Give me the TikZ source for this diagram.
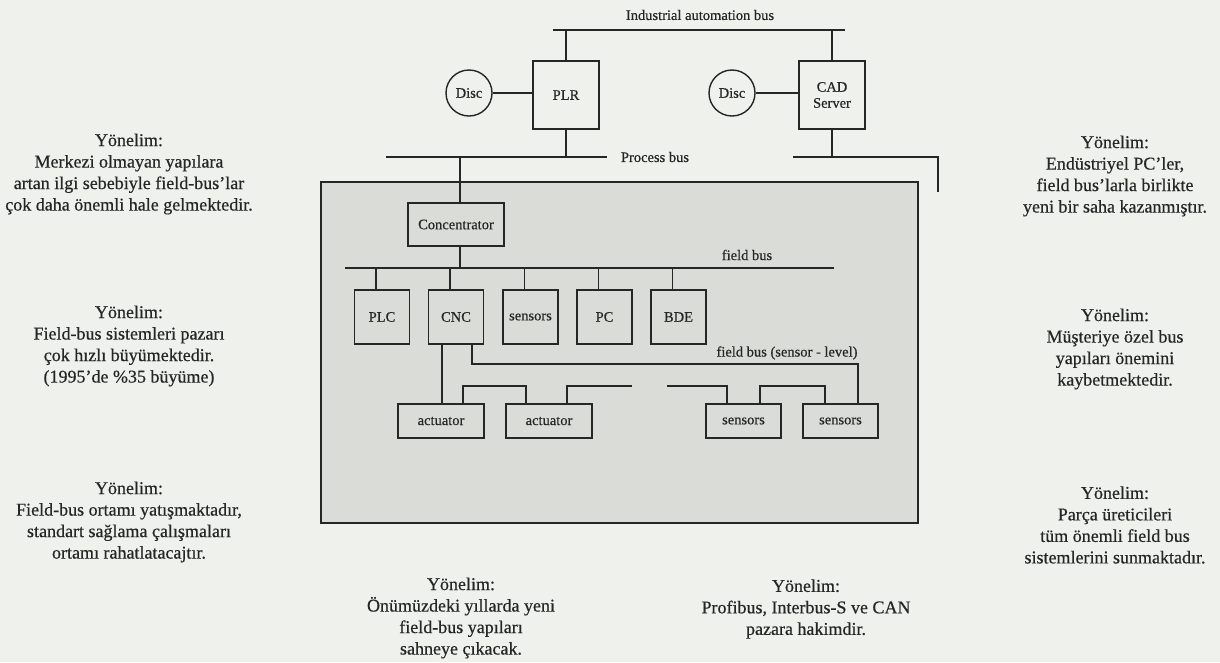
\documentclass[tikz,border=0pt]{standalone}
\usepackage{fontspec}
\setmainfont{Liberation Serif}[FakeBold=0.5]
\definecolor{bg}{HTML}{EEF1EC}
\definecolor{area}{HTML}{D9DCD7}
\definecolor{ink}{HTML}{262626}
\begin{document}
\begin{tikzpicture}[x=1pt,y=-1pt,
  wire/.style={draw=ink,line width=1.3pt},
  box/.style={draw=ink,line width=1.4pt,fill=area,inner sep=0pt,text=ink,
    font=\fontsize{14.5}{16}\selectfont,align=center},
  topbox/.style={box,fill=bg,minimum width=66pt,minimum height=68pt},
  rowbox/.style={box,minimum width=55pt,minimum height=54pt},
  lowbox/.style={box,minimum height=34pt},
  disc/.style={circle,draw=ink,line width=1.4pt,minimum size=46pt,inner sep=0pt,
    text=ink,font=\fontsize{14.5}{16}\selectfont},
  lab/.style={inner sep=0pt,text=ink,font=\fontsize{14.5}{16}\selectfont},
  side/.style={inner sep=0pt,text=ink,align=center,font=\fontsize{18}{21.5}\selectfont}]
\useasboundingbox[fill=bg] (0,0) rectangle (1220,662);

% upper level
\node[lab] (ialab) at (700,15) {Industrial automation bus};
\coordinate (ib1) at (553,30);
\coordinate (ib2) at (845,30);
\draw[wire] (ib1) -- (ib2);
\node[topbox] (plr) at (566,95) {PLR};
\node[topbox] (cad) at (832,95) {CAD\\Server};
\node[disc] (d1) at (469,93) {Disc};
\node[disc] (d2) at (732,93) {Disc};
\draw[wire] (d1.east) -- (d1.east -| plr.west);
\draw[wire] (d2.east) -- (d2.east -| cad.west);
\draw[wire] (plr.north) -- (plr.north |- ib1);
\draw[wire] (cad.north) -- (cad.north |- ib1);

% process bus
\coordinate (pb1) at (386,157);
\coordinate (pb2) at (607,157);
\coordinate (pb3) at (793,157);
\coordinate (pb4) at (938,157);
\coordinate (pb5) at (938,192);
\draw[wire] (pb1) -- (pb2);
\draw[wire] (pb3) -- (pb4) -- (pb5);
\node[lab] (pblab) at (655,157) {Process bus};
\draw[wire] (plr.south) -- (plr.south |- pb1);
\draw[wire] (cad.south) -- (cad.south |- pb3);

% field area
\node[draw=ink,line width=2.4pt,fill=area,minimum width=597pt,minimum height=341pt,inner sep=0pt] (fa) at (619.5,352.5) {};

\node[box,minimum width=96pt,minimum height=43pt] (conc) at (456,224.5) {Concentrator};
\coordinate (ctap) at (460,157);
\draw[wire] (ctap) -- (ctap |- conc.north);

\coordinate (fb1) at (345,268);
\coordinate (fb2) at (834,268);
\draw[wire] (fb1) -- (fb2);
\draw[wire] (ctap |- conc.south) -- (ctap |- fb1);
\node[lab] (fblab) at (747,255) {field bus};

\node[rowbox] (plc) at (382,317) {PLC};
\node[rowbox] (cnc) at (456,317) {CNC};
\node[rowbox] (sen) at (530.5,317) {sensors};
\node[rowbox] (pc) at (604.5,317) {PC};
\node[rowbox] (bde) at (678.5,317) {BDE};
\foreach \n in {plc,cnc,sen,pc,bde}
  \draw[wire] ([xshift=-6pt]\n.north) -- ([xshift=-6pt]\n.north |- fb1);

\node[lowbox,minimum width=86pt] (act1) at (441,421) {actuator};
\node[lowbox,minimum width=86pt] (act2) at (549,421) {actuator};
\node[lowbox,minimum width=75pt] (sb1) at (743.5,421) {sensors};
\node[lowbox,minimum width=75pt] (sb2) at (840.5,421) {sensors};

\draw[wire] ([xshift=-14pt]cnc.south) -- ([xshift=-14pt]cnc.south |- act1.north);
\coordinate (slr) at (858,364);
\draw[wire] ([xshift=16pt]cnc.south) |- (slr) -- (slr |- sb2.north);
\node[lab] (sllab) at (787,353) {field bus (sensor - level)};

\coordinate (a1) at (463,386);
\coordinate (a2) at (526,386);
\coordinate (a3) at (567,386);
\coordinate (a4) at (632,386);
\coordinate (s1) at (667,386);
\coordinate (s2) at (727,386);
\coordinate (s3) at (760,386);
\coordinate (s4) at (825,386);
\draw[wire] (act1.north -| a1) -- (a1) -- (a2) -- (act2.north -| a2);
\draw[wire] (act2.north -| a3) -- (a3) -- (a4);
\draw[wire] (s1) -- (s2) -- (sb1.north -| s2);
\draw[wire] (sb1.north -| s3) -- (s3) -- (s4) -- (sb2.north -| s4);

% side texts
\node[side] (l1) at (129,174) {Yönelim:\\Merkezi olmayan yapılara\\artan ilgi sebebiyle field-bus'lar\\çok daha önemli hale gelmektedir.};
\node[side] (l2) at (129,346) {Yönelim:\\Field-bus sistemleri pazarı\\çok hızlı büyümektedir.\\(1995'de \%35 büyüme)};
\node[side] (l3) at (129,522) {Yönelim:\\Field-bus ortamı yatışmaktadır,\\standart sağlama çalışmaları\\ortamı rahatlatacajtır.};
\node[side] (r1) at (1115,176) {Yönelim:\\Endüstriyel PC'ler,\\field bus'larla birlikte\\yeni bir saha kazanmıştır.};
\node[side] (r2) at (1115,349) {Yönelim:\\Müşteriye özel bus\\yapıları önemini\\kaybetmektedir.};
\node[side] (r3) at (1115,525) {Yönelim:\\Parça üreticileri\\tüm önemli field bus\\sistemlerini sunmaktadır.};
\node[side] (b1) at (461,618) {Yönelim:\\Önümüzdeki yıllarda yeni\\field-bus yapıları\\sahneye çıkacak.};
\node[side] (b2) at (806,609) {Yönelim:\\Profibus, Interbus-S ve CAN\\pazara hakimdir.};
\end{tikzpicture}
\end{document}
